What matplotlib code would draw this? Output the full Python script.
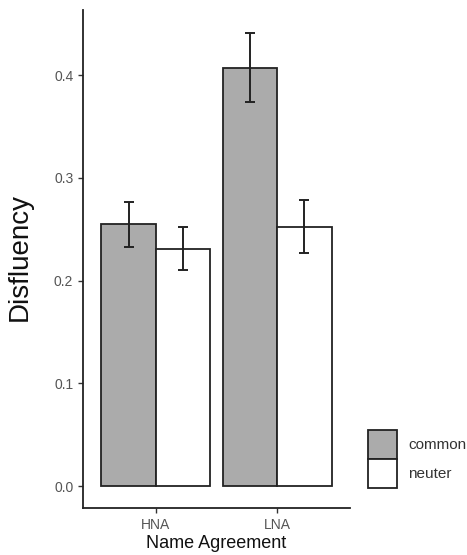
import numpy as np
import matplotlib
matplotlib.use("Agg")
import matplotlib.pyplot as plt
from matplotlib.patches import Patch

plt.rcParams['font.family'] = ['Liberation Sans', 'DejaVu Sans']

# data
groups = ['HNA', 'LNA']
genders = ['common', 'neuter']
means = {'common': [0.255, 0.407], 'neuter': [0.231, 0.252]}
err_lo = {'common': [0.233, 0.374], 'neuter': [0.210, 0.227]}
err_hi = {'common': [0.276, 0.441], 'neuter': [0.252, 0.278]}
fills = {'common': '#ababab', 'neuter': '#ffffff'}
yticks = [0.0, 0.1, 0.2, 0.3, 0.4]

fig = plt.figure(figsize=(4.67, 5.55), dpi=100)
ax = fig.add_axes([83/467, 1-508/555, (350-83)/467, (508-10)/555])

x = np.arange(1, len(groups)+1)
w = 0.45
for i, g in enumerate(genders):
    xs = x + (i - 0.5)*w
    m = np.array(means[g])
    lo = m - np.array(err_lo[g])
    hi = np.array(err_hi[g]) - m
    ax.bar(xs, m, width=w, color=fills[g], edgecolor='#222222', linewidth=1.3, zorder=2)
    ax.errorbar(xs, m, yerr=[lo, hi], fmt='none', ecolor='#222222',
                elinewidth=1.4, capsize=3.8, capthick=1.4, zorder=3)

ax.set_xlim(0.4, 2.6)
ax.set_ylim(-0.0214, 0.4633)
ax.set_xticks(x)
ax.set_xticklabels(groups)
ax.set_yticks(yticks)
ax.set_yticklabels(['%.1f' % t for t in yticks])
ax.tick_params(colors='#333333', labelcolor='#555555', labelsize=10, length=3.5, width=1)
for s in ['top', 'right']:
    ax.spines[s].set_visible(False)
for s in ['left', 'bottom']:
    ax.spines[s].set_color('#222222')
    ax.spines[s].set_linewidth(1.3)

ax.set_xlabel('Name Agreement', fontsize=13, color='#111111', labelpad=2)
ax.set_ylabel('Disfluency', fontsize=20, color='#111111')
ax.yaxis.set_label_coords(-0.19, 0.505)

handles = [Patch(facecolor=fills[g], edgecolor='#222222', linewidth=1.3) for g in genders]
fig.legend(handles, genders, loc='upper left', bbox_to_anchor=(368/467, 1-430/555),
           frameon=False, fontsize=11, handlelength=1.9, handleheight=2.55,
           labelspacing=0, handletextpad=0.72, borderpad=0, borderaxespad=0,
           labelcolor='#333333')

fig.savefig('out.png', dpi=100)
